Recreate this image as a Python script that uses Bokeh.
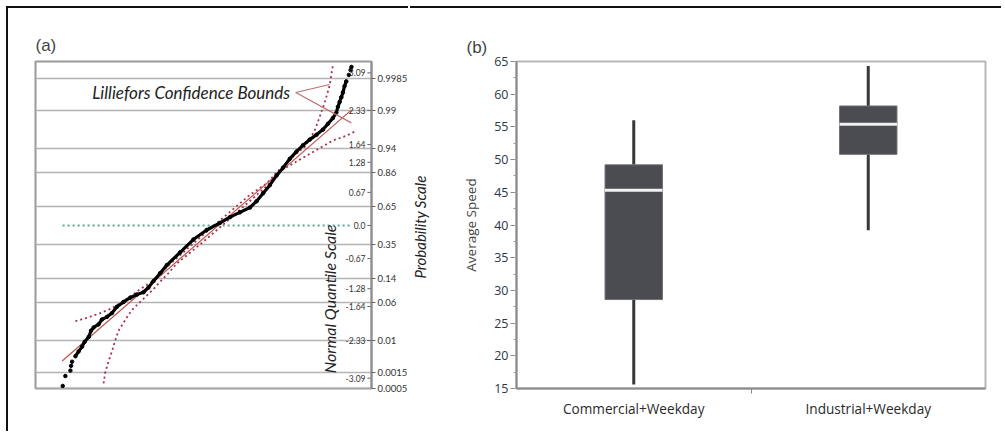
import math
from statistics import NormalDist
from bokeh.plotting import figure
from bokeh.layouts import row
from bokeh.models import FixedTicker, Range1d, SingleIntervalTicker
from bokeh.core.properties import value
from bokeh.embed import file_html
from bokeh.resources import INLINE

# ---------------- panel (a): normal quantile plot ----------------
qq_speed = [15.62, 16.07, 16.92, 17.04, 17.21, 17.77, 18.32, 18.90, 19.34, 20.02,
            20.42, 20.86, 21.71, 22.28, 23.13, 23.97, 24.82, 25.94, 27.07, 28.20,
            29.32, 30.16, 31.01, 32.14, 33.28, 35.53, 37.77, 40.04, 42.29, 43.98,
            45.67, 47.37, 48.50, 49.62, 50.75, 51.88, 53.00, 54.13, 55.26, 56.38,
            57.51, 58.65, 59.76, 60.61, 61.45, 62.03, 62.30, 62.59, 62.88, 63.15,
            63.43, 63.72, 64.16, 64.45, 64.60]
qq_z = [-3.248, -3.048, -2.938, -2.841, -2.757, -2.647, -2.549, -2.452, -2.355, -2.258,
        -2.130, -2.064, -2.000, -1.903, -1.850, -1.773, -1.645, -1.548, -1.462, -1.398,
        -1.353, -1.256, -1.126, -0.965, -0.802, -0.544, -0.285, -0.091, 0.052, 0.169,
        0.266, 0.363, 0.491, 0.654, 0.816, 1.010, 1.171, 1.349, 1.495, 1.625,
        1.738, 1.835, 1.942, 2.058, 2.175, 2.285, 2.402, 2.499, 2.596, 2.693,
        2.821, 2.918, 3.048, 3.146, 3.210]

fit_speed = [15.52, 64.57]
fit_z = [-2.744, 2.336]

zero_line_speed = [15.6, 64.3]
zero_line_z = [0.0, 0.0]

left_bound_speed = [17.77, 19.74, 21.99, 23.97, 25.66, 27.36, 28.76, 30.45, 32.14, 33.33,
                    37.89, 42.63, 47.37, 50.19, 52.44, 54.69, 56.67, 57.51, 58.36, 59.20,
                    60.05, 60.90, 61.45]
left_bound_z = [-1.936, -1.870, -1.773, -1.676, -1.548, -1.417, -1.287, -1.159, -0.996, -0.835,
                -0.350, 0.136, 0.621, 0.849, 1.140, 1.398, 1.592, 1.748, 1.922, 2.194,
                2.485, 2.835, 3.243]

right_bound_speed = [22.55, 22.84, 23.40, 23.97, 24.53, 25.09, 25.94, 26.78, 27.63, 28.76,
                     29.89, 31.01, 32.14, 33.55, 34.97, 39.25, 43.98, 48.55, 50.92, 53.00,
                     55.82, 58.65, 61.45, 63.72, 65.41]
right_bound_z = [-3.198, -2.971, -2.744, -2.549, -2.324, -2.130, -1.967, -1.806, -1.676, -1.548,
                 -1.417, -1.287, -1.140, -0.965, -0.771, -0.350, 0.136, 0.621, 0.874, 1.140,
                 1.334, 1.528, 1.722, 1.815, 1.916]

prob_values = [0.0005, 0.0015, 0.01, 0.06, 0.14, 0.35, 0.65, 0.86, 0.94, 0.99, 0.9985]
prob_labels = ["0.0005", "0.0015", "0.01", "0.06", "0.14", "0.35", "0.65", "0.86", "0.94", "0.99", "0.9985"]

quant_values = [3.09, 2.33, 1.64, 1.28, 0.67, 0.0, -0.67, -1.28, -1.64, -2.33, -3.09]
quant_labels = ["3.09", "2.33", "1.64", "1.28", "0.67", "0.0", "-0.67", "-1.28", "-1.64", "-2.33", "-3.09"]

annotation_text = "Lilliefors Confidence Bounds"
prob_axis_title = "Probability Scale"
quant_axis_title = "Normal Quantile Scale"

# ---------------- panel (b): box plot ----------------
categories = ["Commercial+Weekday", "Industrial+Weekday"]
whisker_low = [15.6, 39.2]
q1 = [28.6, 50.8]
median = [45.3, 55.4]
q3 = [49.2, 58.2]
whisker_high = [56.0, 64.3]

H = 425
Z0, Z1 = -3.30, 3.32
SHADOW_LEFT_TOP = {"box-shadow": "-2px -2px 0 0 #111111"}
SHADOW_TOP = {"box-shadow": "0 -2px 0 0 #111111"}

# ================= figure (a) =================
X0, X1 = 11.0, 68.0
pa = figure(width=402, height=H, x_range=Range1d(X0, X1), y_range=Range1d(Z0, Z1),
            output_backend="svg", toolbar_location=None, y_axis_location="right",
            min_border_left=27, min_border_right=38, min_border_top=53, min_border_bottom=31,
            styles=SHADOW_LEFT_TOP)
pa.xaxis.visible = False
pa.xgrid.visible = False
pa.outline_line_color = "#9a9a9a"
pa.outline_line_width = 2

prob_z = [round(NormalDist().inv_cdf(p), 4) for p in prob_values]
yax = pa.yaxis[0]
yax.ticker = FixedTicker(ticks=prob_z, minor_ticks=[])
yax.major_label_overrides = {z: lab for z, lab in zip(prob_z, prob_labels)}
yax.axis_line_color = "#8f8f8f"
yax.axis_line_width = 2
yax.major_tick_out = 4
yax.major_tick_in = 0
yax.major_tick_line_color = "#666666"
yax.major_label_standoff = 2
yax.major_label_text_font = "Lato"
yax.major_label_text_font_size = "9.5px"
yax.major_label_text_color = "#333333"

pa.ygrid.ticker = FixedTicker(ticks=prob_z)
pa.ygrid.grid_line_color = "#b4b4b4"
pa.ygrid.grid_line_width = 1.6

pa.title.text = "(a)"
pa.title.text_font = "Liberation Sans"
pa.title.text_font_size = "17px"
pa.title.text_font_style = "normal"
pa.title.align = "left"
pa.title.standoff = 14

pa.line(zero_line_speed, zero_line_z, line_color="#5fa393", line_width=2, line_dash="2 3")
pa.line(left_bound_speed, left_bound_z, line_color="#a8324a", line_width=1.8, line_dash="2 3")
pa.line(right_bound_speed, right_bound_z, line_color="#a8324a", line_width=1.8, line_dash="2 3")
pa.line(fit_speed, fit_z, line_color="#c0504d", line_width=1.2)
pa.line(qq_speed[5:52], qq_z[5:52], line_color="black", line_width=3.2)
pa.scatter(qq_speed, qq_z, size=3.5, fill_color="black", line_color="black")

# inner normal-quantile scale
pa.text(x=[X1] * len(quant_values), y=quant_values, text=quant_labels, x_offset=-6,
        text_align="right", text_baseline="middle", text_font=value("Lato"),
        text_font_size="8.5px", text_color="#333333")
pa.segment(x0=[X1 - 0.7] * len(quant_values), x1=[X1] * len(quant_values),
           y0=quant_values, y1=quant_values, line_color="#666666", line_width=1)
pa.text(x=[60.9], y=[-1.485], text=[quant_axis_title], angle=math.pi / 2,
        text_align="center", text_baseline="middle", text_font=value("Lato"),
        text_font_style="italic", text_font_size="16px", text_color="#222222")

# annotation
pa.text(x=[20.64], y=[2.699], text=[annotation_text], text_align="left", text_baseline="middle",
        text_font=value("Lato"), text_font_style="italic", text_font_size="17px",
        text_color="#222222")
pa.segment(x0=[55.15, 55.15], y0=[2.693, 2.693], x1=[60.90, 64.57], y1=[2.854, 2.078],
           line_color="#c07070", line_width=1.2)

# ============ strip holding the probability-scale title ============
ps = figure(width=40, height=H, x_range=Range1d(0, 1), y_range=Range1d(Z0, Z1),
            output_backend="svg", toolbar_location=None,
            min_border_left=0, min_border_right=0, min_border_top=53, min_border_bottom=31,
            styles=SHADOW_TOP)
ps.axis.visible = False
ps.grid.visible = False
ps.outline_line_color = None
ps.text(x=[0.24], y=[-0.03], text=[prob_axis_title], angle=math.pi / 2,
        text_align="center", text_baseline="middle", text_font=value("Lato"),
        text_font_style="italic", text_font_size="15px", text_color="#222222")

# ================= figure (b) =================
pb = figure(width=551, height=H, x_range=Range1d(0, 2), y_range=Range1d(15, 65),
            output_backend="svg", toolbar_location=None,
            min_border_left=66, min_border_right=16, min_border_top=50, min_border_bottom=45,
            styles=SHADOW_TOP)
pb.grid.visible = False
pb.outline_line_color = "#b8b8b8"
pb.outline_line_width = 2

box_x = [i + 0.5 for i in range(len(categories))]
box_w = 0.245

pb.segment(x0=box_x, y0=q3, x1=box_x, y1=whisker_high, line_color="#36383c", line_width=3)
pb.segment(x0=box_x, y0=q1, x1=box_x, y1=whisker_low, line_color="#36383c", line_width=3)
pb.vbar(x=box_x, width=box_w, bottom=q1, top=q3, fill_color="#4a4c51", line_color="#707276",
        line_width=1)
pb.segment(x0=[x - box_w / 2 for x in box_x], x1=[x + box_w / 2 for x in box_x],
           y0=median, y1=median, line_color="#f2f2f2", line_width=3)

ya = pb.yaxis[0]
ya.ticker = SingleIntervalTicker(interval=5, num_minor_ticks=2)
ya.axis_line_color = "#8a8a8a"
ya.axis_line_width = 2
ya.major_tick_out = 6
ya.major_tick_in = 0
ya.minor_tick_out = 3
ya.minor_tick_in = 0
ya.major_tick_line_color = "#8a8a8a"
ya.minor_tick_line_color = "#9a9a9a"
ya.major_label_standoff = 2
ya.major_label_text_font = "Open Sans"
ya.major_label_text_font_size = "12.5px"
ya.major_label_text_color = "#2e3545"
ya.axis_label = "Average Speed"
ya.axis_label_text_font = "Open Sans"
ya.axis_label_text_font_style = "normal"
ya.axis_label_text_font_size = "13.5px"
ya.axis_label_text_color = "#444444"
ya.axis_label_standoff = 11

xa = pb.xaxis[0]
xa.ticker = FixedTicker(ticks=box_x, minor_ticks=[1.0])
xa.major_label_overrides = {x: c for x, c in zip(box_x, categories)}
xa.major_tick_line_color = None
xa.minor_tick_out = 5
xa.minor_tick_in = 0
xa.minor_tick_line_color = "#8a8a8a"
xa.axis_line_color = "#8a8a8a"
xa.axis_line_width = 2
xa.major_label_standoff = 4
xa.major_label_text_font = "Open Sans"
xa.major_label_text_font_size = "13.6px"
xa.major_label_text_color = "#2a2a2a"

pb.title.text = "(b)"
pb.title.text_font = "Liberation Sans"
pb.title.text_font_size = "17px"
pb.title.text_font_style = "normal"
pb.title.align = "left"
pb.title.offset = -50
pb.title.standoff = 10

layout = row(pa, ps, pb, styles={"margin-left": "8px", "margin-top": "8px", "overflow": "visible"})

open("out.html", "w").write(file_html(layout, INLINE))
